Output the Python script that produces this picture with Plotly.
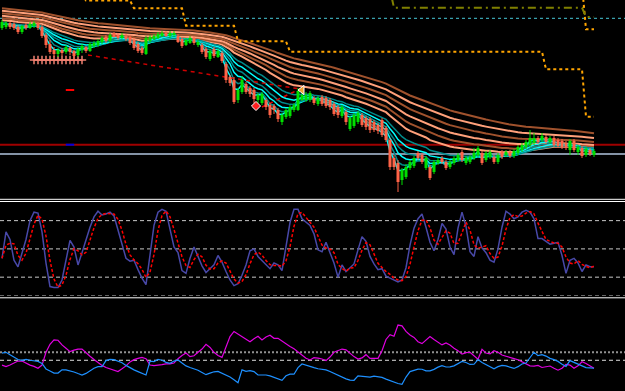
import plotly.graph_objects as go

# ---------------- price data (points) ----------------
opens = [172,173,177,176,173,168,175,172,174,177,173,165,156,150,146,150,148,152,149,145,
         150,153,149,154,155,158,163,159,167,165,162,164,163,160,156,152,146,159,161,162,
         164,167,164,165,164,161,155,157,162,155,155,151,141,151,143,147,136,123,120,100,
         108,116,112,110,100,97,100,95,94,90,78,83,84,90,90,100,100,100,102,96,
         103,102,100,96,93,84,88,71,74,78,85,82,81,78,75,80,72,60,42,37,
         20,23,32,34,47,45,32,33,28,37,42,38,33,37,40,48,37,38,42,45,
         47,40,43,43,38,48,45,48,44,47,50,53,55,57,62,60,63,58,62,60,
         59,57,50,59,48,52,45,50,45]
highs = [180,179,178,178,175,175,177,178,179,178,175,167,160,153,152,152,155,154,150,153,
         156,154,158,159,161,164,165,167,168,167,167,166,165,162,158,154,164,165,166,168,
         169,169,169,169,166,163,162,164,164,160,157,153,151,153,151,149,138,125,123,112,
         124,118,114,112,107,108,102,97,96,92,87,92,95,97,112,107,108,109,104,104,
         105,104,102,98,95,95,90,84,87,89,87,84,83,80,77,82,74,62,45,40,
         32,36,40,44,49,47,44,35,40,42,44,40,40,44,47,50,44,45,52,54,
         49,49,50,45,47,50,50,50,51,55,57,60,70,67,64,67,65,64,64,62,
         61,59,61,61,55,54,53,52,51]
lows = [170,171,171,170,166,166,170,171,172,170,162,152,146,143,143,144,146,145,141,143,
        147,147,148,152,153,156,157,157,162,160,161,159,155,150,147,145,145,157,160,161,
        163,163,162,163,157,152,154,156,155,153,146,141,139,142,142,137,117,114,96,97,
        106,106,103,97,97,95,90,82,86,78,75,81,82,88,89,99,98,98,95,94,
        94,92,90,84,82,82,75,69,72,76,73,70,67,68,66,63,58,30,30,8,
        15,21,30,32,40,36,30,20,26,35,36,30,31,35,38,38,35,36,40,43,
        35,38,41,36,36,41,43,42,42,45,48,51,53,55,56,58,56,56,53,52,
        51,50,45,48,45,42,43,44,43]
closes = [178,177,173,172,168,174,172,176,177,172,164,155,148,146,150,147,153,148,144,151,
          154,149,156,157,159,162,159,165,163,162,165,161,157,152,149,147,162,163,164,166,
          167,164,167,167,158,154,160,162,157,158,148,143,149,144,149,139,120,117,98,110,
          120,108,106,101,105,106,93,85,90,81,85,90,93,95,109,105,105,107,97,102,
          96,94,93,86,85,93,78,82,85,87,75,73,70,70,69,65,60,33,33,18,
          30,33,38,42,42,38,42,22,38,40,38,32,38,42,45,40,42,43,47,52,
          37,47,48,38,45,43,48,44,49,53,55,58,62,62,58,64,58,62,55,54,
          53,52,59,50,53,44,51,46,49]

# moving-average ribbons (periods and values at the left edge)
slow_periods = [30, 38, 47, 57, 68, 80]
slow_seed = [180, 182, 184.5, 187, 189.5, 192]
slow_colors = ['#FFA07A', '#A0522D', '#FFA07A', '#A0522D', '#FFA07A', '#A0522D']
fast_periods = [3, 5, 8, 11, 15, 20]
fast_seed = [175, 175, 175, 175.5, 176, 176.5]
fast_colors = ['#00FFFF', '#008B8B', '#00FFFF', '#008B8B', '#00FFFF', '#008B8B']

# stepped resistance lines: (first bar, level)
res1_start = [0, 21, 33, 46, 59, 72, 136, 146]
res1_level = [205, 199.5, 191.7, 174.3, 158.7, 148.3, 130.7, 83.3]
res2_start = [0, 146]
res2_level = [215, 170.7]
olive_start = [0, 98, 146]
olive_level = [210, 192.3, 183]

# horizontal levels (price)
cyan_level = 181.7
red_level = 55.3
steel_level = 46.0

# trend lines (bar, price)
trend_a_bars = [21.5, 74.5]
trend_a_prices = [145, 111]
trend_b_bars = [65, 74.5]
trend_b_prices = [93, 111]
arrow_bar = [75]
arrow_price = [110]
diamond_bar = [63.5]
diamond_price = [94]
cross_bars = [8, 9, 10, 11, 12, 13, 14, 15, 16, 17, 18, 19, 20]
cross_price = 140
red_mark_bar = [17]
red_mark_price = [110]
blue_mark_bar = [17]
blue_mark_price = [55.3]

# ---------------- stochastic main ----------------
stoch_main = [40,68,60,38,31,45,60,80,89,88,68,35,10,9,9,17,40,59,52,33,
              46,60,73,84,90,86,87,89,85,70,54,40,37,38,28,19,12,45,75,89,
              92,90,70,52,46,27,24,40,52,41,32,25,29,33,43,36,26,17,11,13,
              22,33,48,50,42,38,33,29,35,33,27,52,78,92,92,82,78,75,66,49,
              47,57,46,35,20,33,26,30,34,49,63,58,42,34,28,29,21,19,17,15,
              17,30,54,72,82,87,73,57,48,60,77,71,52,44,72,89,74,47,42,63,
              51,46,38,36,50,73,90,87,82,84,89,91,89,82,61,61,58,55,56,57,
              43,24,38,40,35,26,33,31,31]
stoch_levels = [80, 50, 20, 0]

# ---------------- directional lines ----------------
plus_line = [17,16,17,18,19.5,19.5,18,17,16.2,15,17,25,30,32.7,32.5,29.6,27.5,25.4,26.3,27,
             27,24.5,22.5,20.5,18.5,16.8,15.5,14.5,13.7,13,14.7,16.5,19,20.4,21.2,21.8,21,17,16.6,16.8,
             17.3,17.8,17.8,18.3,21,23,24.5,22.3,22.8,25,27,30,28,25,23,21.8,29,34.8,38,36.5,
             34.5,33.5,31.6,33.5,35,32.7,34.5,35.6,33.7,33.7,32,30,28.6,27.2,25.2,22.8,21.3,20.2,21.6,21.3,
             20.8,19.8,22,25,26,27,26.5,24.3,22.3,20.8,21.5,23.5,21.2,21.2,21.2,26,33,36,35,42,
             41.5,38,35.8,34.3,31.6,30.4,32.5,34.8,33,31.3,29.6,30.8,29.5,27.5,26,23.8,24.8,25,23,20.6,
             26.9,24.5,24,26,25,23.3,22.5,21.6,21,20.3,19,17.8,16.5,16.4,16.8,15.5,15.8,16.4,15,13.8,
             15,17.4,17,15,16.5,19.1,18,16.4,15]
minus_line = [24.5,25,23.5,22,20.5,20,20.5,20,19.6,19.3,18,14.6,13.3,12,12,14,14,13.4,12.7,11.7,
              10.8,11.8,13.5,15,16,16,19.8,20.5,20.4,19.6,18.5,16.8,15.3,14,12.9,11.8,10.8,19.4,19.2,20.5,
              20,18.7,18.1,19.5,20.2,18.3,16.5,15.5,14.8,13.8,12.4,11,12,12.8,13,12,11,9.5,7.8,6,
              14,13.1,13.5,12.9,10.8,10.8,10.8,10.2,9.3,8.5,7.5,10.3,11.3,11.3,15.4,17.7,16.8,16,15.4,14.7,
              14.3,14,13,11.8,10.5,9.5,8.4,7.6,7.5,10.2,10,9.5,9.5,10.1,9.9,9.3,8.2,7.2,6.3,5.5,
              5,9.5,12.9,13.7,14.5,14.4,13.4,13.4,14.3,15.7,16.6,15.8,15.9,16.5,17.7,19.3,18.6,17.4,17.5,20.4,
              18.6,17.2,15.9,14.7,16,16.8,16.5,15.7,14.9,16,17.7,18.3,21.5,25,22.9,23.5,22.6,21.2,20.4,19.3,
              17.5,16.2,19.8,18.8,17.8,16.6,15.4,15.2,15]
di_level_solid = 20
di_level_dotted = 25

UP_COLOR = '#00E000'
DOWN_COLOR = '#FF6347'

# ---------------- derived series ----------------
N = len(closes)
bars = list(range(N))


def ema(values, period, seed):
    a = 2.0 / (period + 1)
    out, e = [], seed
    for v in values:
        e = e + a * (v - e)
        out.append(e)
    return out


def steps(starts, levels):
    out = []
    for i in range(N):
        lv = levels[0]
        for s, l in zip(starts, levels):
            if i >= s:
                lv = l
        out.append(lv)
    return out


stoch_signal = []
for i in range(N):
    w = stoch_main[max(0, i - 2):i + 1]
    stoch_signal.append(sum(w) / len(w))


def candle_segments(up):
    wx, wy, bx, by = [], [], [], []
    for i in range(N):
        o, h, l, c = opens[i], highs[i], lows[i], closes[i]
        if (c >= o) != up:
            continue
        wx += [i, i, None]
        wy += [l, h, None]
        lo, hi = min(o, c), max(o, c)
        if hi - lo < 0.8:
            hi = lo + 0.8
        bx += [i, i, None]
        by += [lo, hi, None]
    return wx, wy, bx, by


fig = go.Figure()

# ribbons
for p, s, c in zip(slow_periods, slow_seed, slow_colors):
    fig.add_trace(go.Scatter(x=bars, y=ema(closes, p, s), mode='lines',
                             line=dict(color=c, width=2), hoverinfo='skip'))
for p, s, c in zip(fast_periods, fast_seed, fast_colors):
    fig.add_trace(go.Scatter(x=bars, y=ema(closes, p, s), mode='lines',
                             line=dict(color=c, width=1.5), hoverinfo='skip'))

# stepped lines
fig.add_trace(go.Scatter(x=bars, y=steps(res1_start, res1_level), mode='lines',
                         line=dict(color='#FFA500', width=2, dash='3px,3px')))
fig.add_trace(go.Scatter(x=bars, y=steps(res2_start, res2_level), mode='lines',
                         line=dict(color='#FFA500', width=2, dash='3px,3px')))
fig.add_trace(go.Scatter(x=bars, y=steps(olive_start, olive_level), mode='lines',
                         line=dict(color='#808000', width=2, dash='8px,4px,2px,4px')))

# trend lines
fig.add_trace(go.Scatter(x=trend_a_bars, y=trend_a_prices, mode='lines',
                         line=dict(color='#D00000', width=1.5, dash='4px,4px')))
fig.add_trace(go.Scatter(x=trend_b_bars, y=trend_b_prices, mode='lines',
                         line=dict(color='#E00000', width=1.5, dash='4px,4px')))
fig.add_trace(go.Scatter(x=cross_bars, y=[cross_price] * len(cross_bars), mode='lines+markers',
                         line=dict(color='#F08070', width=1),
                         marker=dict(symbol='cross-thin', size=6, color='#F08070',
                                     line=dict(color='#F08070', width=1.5))))
fig.add_trace(go.Scatter(x=red_mark_bar, y=red_mark_price, mode='markers',
                         marker=dict(symbol='line-ew', size=6, line=dict(color='#FF0000', width=2))))

# candles (wicks + bodies), drawn above the ribbons
for up, col in ((True, UP_COLOR), (False, DOWN_COLOR)):
    wx, wy, bx, by = candle_segments(up)
    fig.add_trace(go.Scatter(x=wx, y=wy, mode='lines', line=dict(color=col, width=1),
                             hoverinfo='skip', connectgaps=False))
    fig.add_trace(go.Scatter(x=bx, y=by, mode='lines', line=dict(color=col, width=3),
                             hoverinfo='skip', connectgaps=False))

fig.add_trace(go.Scatter(x=arrow_bar, y=arrow_price, mode='markers',
                         marker=dict(symbol='triangle-left', size=8, color='#F0A030',
                                     line=dict(color='#FFFFFF', width=1))))
fig.add_trace(go.Scatter(x=diamond_bar, y=diamond_price, mode='markers',
                         marker=dict(symbol='diamond', size=7, color='#FF2020',
                                     line=dict(color='#FFFFFF', width=1))))
fig.add_trace(go.Scatter(x=blue_mark_bar, y=blue_mark_price, mode='markers',
                         marker=dict(symbol='line-ew', size=6, line=dict(color='#0000DD', width=2))))

# stochastic
fig.add_trace(go.Scatter(x=bars, y=stoch_main, yaxis='y2', mode='lines',
                         line=dict(color='#4848A8', width=1.5)))
fig.add_trace(go.Scatter(x=bars, y=stoch_signal, yaxis='y2', mode='lines',
                         line=dict(color='#FF0000', width=1.5, dash='3px,2px')))

# directional
fig.add_trace(go.Scatter(x=bars, y=plus_line, yaxis='y3', mode='lines',
                         line=dict(color='#E000E0', width=1.2)))
fig.add_trace(go.Scatter(x=bars, y=minus_line, yaxis='y3', mode='lines',
                         line=dict(color='#1E90FF', width=1.2)))

shapes = []
# price levels
shapes.append(dict(type='line', xref='paper', x0=0, x1=1, yref='y', y0=cyan_level, y1=cyan_level,
                   line=dict(color='#48C8D8', width=1, dash='3px,3px'), layer='below'))
shapes.append(dict(type='line', xref='paper', x0=0, x1=1, yref='y', y0=red_level, y1=red_level,
                   line=dict(color='#A00000', width=2), layer='below'))
shapes.append(dict(type='line', xref='paper', x0=0, x1=1, yref='y', y0=steel_level, y1=steel_level,
                   line=dict(color='#B0C4DE', width=1.5), layer='below'))
# stochastic levels
for lv in stoch_levels:
    shapes.append(dict(type='line', xref='paper', x0=0, x1=1, yref='y2', y0=lv, y1=lv,
                       line=dict(color='#C8C8C8', width=1, dash='4px,3px'), layer='below'))
# directional levels
shapes.append(dict(type='line', xref='paper', x0=0, x1=1, yref='y3', y0=di_level_dotted, y1=di_level_dotted,
                   line=dict(color='#909090', width=2, dash='2px,2px'), layer='below'))
shapes.append(dict(type='line', xref='paper', x0=0, x1=1, yref='y3', y0=di_level_solid, y1=di_level_solid,
                   line=dict(color='#E0E0E0', width=1, dash='4px,3px'), layer='below'))
# window separators
H = 391.0
for ypx in (199.3, 201.5, 297.8):
    shapes.append(dict(type='line', xref='paper', x0=0, x1=1, yref='paper',
                       y0=1 - ypx / H, y1=1 - ypx / H, line=dict(color='#FFFFFF', width=1)))

fig.update_layout(
    width=625, height=391, margin=dict(l=0, r=0, t=0, b=0),
    paper_bgcolor='#000000', plot_bgcolor='#000000', showlegend=False,
    xaxis=dict(range=[-0.5, 155.75], visible=False, fixedrange=True),
    yaxis=dict(domain=[1 - 199 / H, 1], range=[1, 200], visible=False),
    yaxis2=dict(domain=[1 - 296 / H, 1 - 201.8 / H], range=[0, 100], visible=False, anchor='x'),
    yaxis3=dict(domain=[0, 1 - 298 / H], range=[0.8, 58.9], visible=False, anchor='x'),
    shapes=shapes,
)

fig.write_html("out.html")
